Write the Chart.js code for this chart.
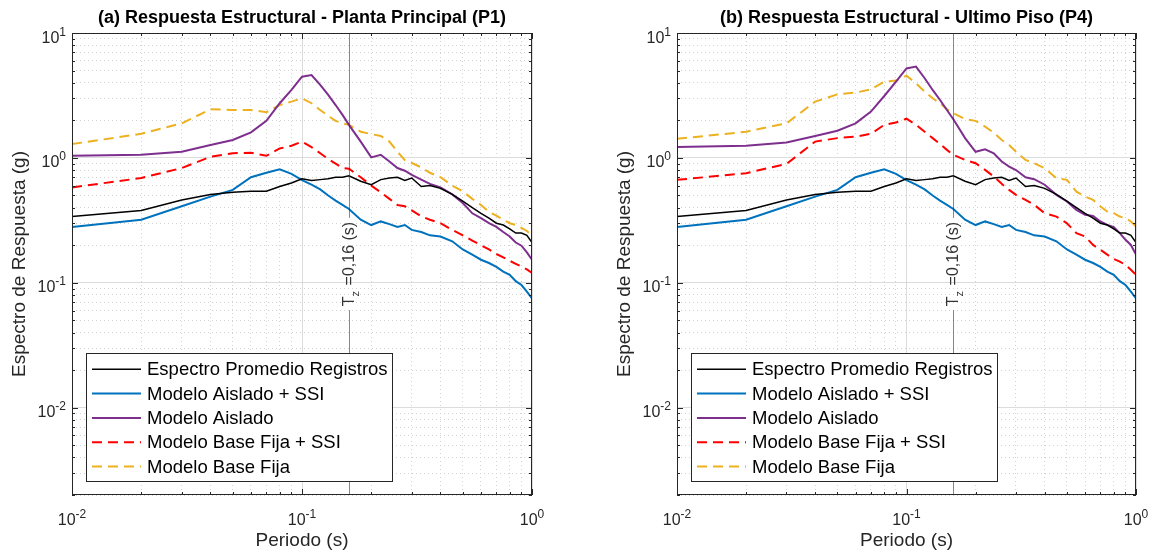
<!DOCTYPE html>
<html>
<head>
<meta charset="utf-8">
<script src="https://cdn.jsdelivr.net/npm/chart.js@4.4.1/dist/chart.umd.min.js"></script>
<style>
  body { margin: 0; background: #fff; }
  canvas { position: absolute; top: 0; }
</style>
</head>
<body>
<canvas id="p1" width="576" height="552" style="left:0"></canvas>
<canvas id="p4" width="577" height="552" style="left:576px"></canvas>
<script>
// Periodos (s)
const periods = [0.01,0.02,0.03,0.04,0.05,0.06,0.07,0.08,0.09,0.10,0.11,0.12,0.13,0.14,0.15,0.16,0.18,0.20,0.22,0.24,0.26,0.28,0.30,0.33,0.36,0.40,0.45,0.50,0.55,0.60,0.65,0.70,0.75,0.80,0.85,0.90,0.95,1.00];

// Series comunes a ambos paneles
const espectroPromedio = [0.34,0.38,0.46,0.51,0.53,0.54,0.54,0.59,0.63,0.68,0.66,0.67,0.68,0.70,0.70,0.72,0.65,0.61,0.67,0.69,0.70,0.66,0.69,0.59,0.60,0.57,0.51,0.45,0.40,0.36,0.33,0.30,0.29,0.27,0.25,0.25,0.24,0.21];
const aisladoSSI = [0.28,0.32,0.41,0.49,0.555,0.70,0.76,0.81,0.745,0.665,0.61,0.56,0.50,0.455,0.42,0.39,0.32,0.29,0.31,0.295,0.28,0.29,0.265,0.255,0.24,0.235,0.215,0.185,0.168,0.153,0.144,0.134,0.123,0.116,0.103,0.096,0.085,0.075];

// Panel (a) - Planta Principal (P1)
const aisladoP1 = [1.04,1.06,1.12,1.27,1.39,1.6,1.98,2.74,3.5,4.47,4.61,3.84,3.19,2.65,2.21,1.84,1.35,1.01,1.06,0.935,0.83,0.79,0.73,0.67,0.62,0.58,0.51,0.435,0.36,0.33,0.30,0.28,0.255,0.235,0.21,0.198,0.175,0.153];
const baseFijaSSIP1 = [0.58,0.69,0.83,1.02,1.09,1.10,1.04,1.19,1.25,1.35,1.22,1.09,0.98,0.90,0.83,0.82,0.70,0.60,0.53,0.47,0.42,0.41,0.38,0.34,0.32,0.30,0.265,0.24,0.218,0.20,0.185,0.17,0.16,0.15,0.142,0.135,0.128,0.12];
const baseFijaP1 = [1.29,1.56,1.89,2.45,2.42,2.42,2.32,2.65,2.82,3.0,2.74,2.42,2.17,1.98,1.89,1.84,1.62,1.55,1.5,1.35,1.12,0.96,0.91,0.84,0.76,0.70,0.60,0.54,0.47,0.42,0.37,0.345,0.32,0.30,0.29,0.275,0.26,0.24];

// Panel (b) - Ultimo Piso (P4)
const aisladoP4 = [1.22,1.25,1.33,1.5,1.65,1.89,2.35,3.13,4.08,5.2,5.38,4.34,3.5,2.91,2.42,2.04,1.44,1.12,1.17,1.09,0.935,0.853,0.80,0.70,0.675,0.61,0.506,0.448,0.384,0.35,0.343,0.31,0.291,0.279,0.25,0.221,0.201,0.168];
const baseFijaSSIP4 = [0.667,0.754,0.895,1.35,1.44,1.48,1.56,1.84,1.92,2.06,1.84,1.62,1.44,1.29,1.16,1.057,0.964,0.906,0.802,0.709,0.62,0.555,0.506,0.461,0.421,0.361,0.339,0.30,0.25,0.235,0.201,0.184,0.168,0.155,0.148,0.139,0.127,0.116];
const baseFijaP4 = [1.42,1.62,1.89,2.82,3.23,3.33,3.54,4.08,4.16,4.55,3.96,3.39,3.0,2.74,2.45,2.28,2.04,1.98,1.78,1.59,1.39,1.27,1.12,0.964,0.906,0.827,0.687,0.667,0.537,0.49,0.461,0.408,0.372,0.361,0.339,0.329,0.31,0.282];

const seriesNames = ['Espectro Promedio Registros', 'Modelo Aislado + SSI', 'Modelo Aislado', 'Modelo Base Fija + SSI', 'Modelo Base Fija'];
const xRange = [0.01, 1];
const yRange = [0.002, 10];
const periodoTz = 0.16;
const labelTz = ' =0,16 (s)';

const FONT = '"Liberation Sans", Arial, Helvetica, sans-serif';
const AXIS = '#262626';

function logTicks(min, max) {
  const t = [];
  for (let e = -4; e <= 2; e++) {
    for (let m = 1; m < 10; m++) {
      const v = +(m * Math.pow(10, e)).toPrecision(4);
      if (v >= min * 0.9999 && v <= max * 1.0001) t.push({ value: v, major: m === 1 });
    }
  }
  return t;
}

function toPoints(vals) {
  return periods.map((p, i) => ({ x: p, y: vals[i] }));
}

function dataset(label, vals, color, width, dash) {
  return {
    label, data: toPoints(vals), borderColor: color, backgroundColor: color,
    borderWidth: width, borderDash: dash || [], pointRadius: 0, tension: 0, fill: false
  };
}

// Etiqueta tipo 10^n
function drawPow(ctx, exp, x, y, align) {
  ctx.font = '16px ' + FONT;
  const w1 = ctx.measureText('10').width;
  ctx.font = '12px ' + FONT;
  const w2 = ctx.measureText(exp).width;
  const w = w1 + w2;
  const x0 = align === 'right' ? x - w : x - w / 2;
  ctx.textAlign = 'left';
  ctx.textBaseline = 'alphabetic';
  ctx.font = '16px ' + FONT;
  ctx.fillText('10', x0, y);
  ctx.font = '12px ' + FONT;
  ctx.fillText(exp, x0 + w1, y - 7);
}

const decor = {
  id: 'decor',
  afterDatasetsDraw(chart) {
    const { ctx, chartArea: a, scales: { x } } = chart;
    const px = Math.round(x.getPixelForValue(periodoTz)) + 0.5;
    const cy = (a.top + a.bottom) / 2;
    ctx.save();
    ctx.font = '16px ' + FONT;
    const wT = ctx.measureText('T').width;
    const wEq = ctx.measureText(labelTz).width;
    ctx.font = '11px ' + FONT;
    const wz = ctx.measureText('z').width;
    const len = wT + wz + 1 + wEq;
    // linea vertical con hueco para la etiqueta
    ctx.strokeStyle = 'rgba(38,38,38,0.55)';
    ctx.lineWidth = 1;
    ctx.beginPath();
    ctx.moveTo(px, a.top);
    ctx.lineTo(px, cy - len / 2 - 4);
    ctx.moveTo(px, cy + len / 2 + 4);
    ctx.lineTo(px, a.bottom);
    ctx.stroke();
    // etiqueta girada
    ctx.translate(px, cy);
    ctx.rotate(-Math.PI / 2);
    ctx.fillStyle = '#333';
    ctx.textBaseline = 'middle';
    ctx.textAlign = 'left';
    let s = -len / 2;
    ctx.font = '16px ' + FONT;
    ctx.fillText('T', s, 0);
    s += wT;
    ctx.font = '11px ' + FONT;
    ctx.fillText('z', s, 6);
    s += wz + 1;
    ctx.font = '16px ' + FONT;
    ctx.fillText(labelTz, s, 0);
    ctx.restore();
  },
  afterDraw(chart, args, opts) {
    const { ctx, chartArea: a, scales: { x, y } } = chart;
    ctx.save();
    // caja de ejes
    ctx.strokeStyle = AXIS;
    ctx.lineWidth = 1;
    ctx.strokeRect(a.left + 0.5, a.top + 0.5, a.right - a.left - 1, a.bottom - a.top - 1);
    // marcas hacia dentro
    ctx.beginPath();
    x.ticks.forEach(t => {
      const p = Math.round(x.getPixelForValue(t.value)) + 0.5;
      const l = t.major ? 6 : 3;
      ctx.moveTo(p, a.bottom); ctx.lineTo(p, a.bottom - l);
      ctx.moveTo(p, a.top); ctx.lineTo(p, a.top + l);
    });
    y.ticks.forEach(t => {
      const p = Math.round(y.getPixelForValue(t.value)) + 0.5;
      const l = t.major ? 6 : 3;
      ctx.moveTo(a.left, p); ctx.lineTo(a.left + l, p);
      ctx.moveTo(a.right, p); ctx.lineTo(a.right - l, p);
    });
    ctx.stroke();
    // etiquetas de ticks
    ctx.fillStyle = AXIS;
    x.ticks.filter(t => t.major).forEach(t => {
      drawPow(ctx, String(Math.round(Math.log10(t.value))), x.getPixelForValue(t.value), a.bottom + 29.5, 'center');
    });
    y.ticks.filter(t => t.major).forEach(t => {
      drawPow(ctx, String(Math.round(Math.log10(t.value))), a.left - 6, y.getPixelForValue(t.value) + 9.5, 'right');
    });
    // titulo
    ctx.fillStyle = '#000';
    ctx.font = 'bold 18px ' + FONT;
    ctx.textAlign = 'center';
    ctx.textBaseline = 'middle';
    ctx.fillText(opts.title, (a.left + a.right) / 2, 18);
    // leyenda
    const lx = a.left + 14, ly = 353, lw = 306, lh = 128;
    ctx.fillStyle = '#fff';
    ctx.fillRect(lx, ly, lw, lh);
    ctx.strokeStyle = AXIS;
    ctx.lineWidth = 1;
    ctx.strokeRect(lx + 0.5, ly + 0.5, lw, lh);
    chart.data.datasets.forEach((ds, i) => {
      const ry = ly + 16.3 + i * 24.3;
      ctx.strokeStyle = ds.borderColor;
      ctx.lineWidth = ds.borderWidth;
      ctx.setLineDash(ds.borderDash);
      ctx.beginPath();
      ctx.moveTo(lx + 6, ry);
      ctx.lineTo(lx + 55, ry);
      ctx.stroke();
      ctx.setLineDash([]);
      ctx.fillStyle = '#000';
      ctx.font = '18.5px ' + FONT;
      ctx.textAlign = 'left';
      ctx.textBaseline = 'middle';
      ctx.fillText(ds.label, lx + 61, ry + 1);
    });
    ctx.restore();
  }
};

function makeChart(id, title, aislado, baseFijaSSI, baseFija, yAxisWidth, padRight, yTitleOffset) {
  return new Chart(document.getElementById(id), {
    type: 'line',
    data: {
      datasets: [
        dataset(seriesNames[0], espectroPromedio, '#000000', 1.5),
        dataset(seriesNames[1], aisladoSSI, '#0072BD', 2),
        dataset(seriesNames[2], aislado, '#7E2F8E', 2),
        dataset(seriesNames[3], baseFijaSSI, '#FF0000', 2, [10, 6]),
        dataset(seriesNames[4], baseFija, '#EDB120', 2, [10, 6])
      ]
    },
    plugins: [decor],
    options: {
      responsive: false,
      animation: false,
      devicePixelRatio: 1,
      layout: { padding: { left: 0, right: padRight, top: 33, bottom: 0 } },
      plugins: {
        legend: { display: false },
        tooltip: { enabled: false },
        decor: { title }
      },
      scales: {
        x: {
          type: 'logarithmic', min: xRange[0], max: xRange[1],
          afterBuildTicks: s => { s.ticks = logTicks(xRange[0], xRange[1]); },
          afterFit: s => { s.height = 57; },
          ticks: { display: false, autoSkip: false },
          grid: { drawTicks: false, color: c => c.tick && c.tick.major ? '#dcdcdc' : '#d2d2d2' },
          border: { display: false, dash: c => c.tick && c.tick.major ? [] : [1, 3] },
          title: { display: true, text: 'Periodo (s)', color: AXIS, font: { size: 19, family: FONT }, padding: { top: 0, bottom: 0 } }
        },
        y: {
          type: 'logarithmic', min: yRange[0], max: yRange[1],
          afterBuildTicks: s => { s.ticks = logTicks(yRange[0], yRange[1]); },
          afterFit: s => { s.width = yAxisWidth; },
          ticks: { display: false, autoSkip: false },
          grid: { drawTicks: false, color: c => c.tick && c.tick.major ? '#dcdcdc' : '#d2d2d2' },
          border: { display: false, dash: c => c.tick && c.tick.major ? [] : [1, 3] },
          title: { display: true, text: 'Espectro de Respuesta (g)', color: AXIS, font: { size: 19, family: FONT }, padding: { top: yTitleOffset, bottom: 0 } }
        }
      }
    }
  });
}

makeChart('p1', '(a) Respuesta Estructural - Planta Principal (P1)', aisladoP1, baseFijaSSIP1, baseFijaP1, 72, 44, 8.6);
makeChart('p4', '(b) Respuesta Estructural - Ultimo Piso (P4)', aisladoP4, baseFijaSSIP4, baseFijaP4, 101, 17, 37.6);
</script>
</body>
</html>
